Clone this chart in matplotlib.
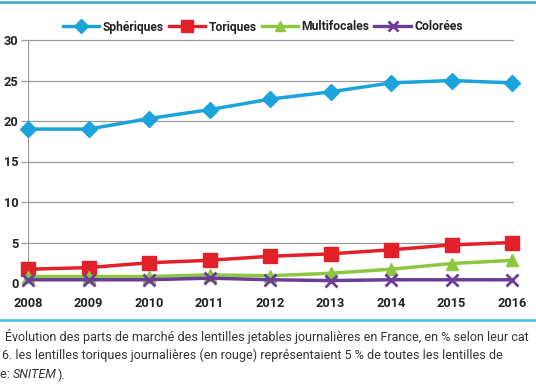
import matplotlib
matplotlib.use("Agg")
import matplotlib.pyplot as plt
from matplotlib.lines import Line2D

years = [2008, 2009, 2010, 2011, 2012, 2013, 2014, 2015, 2016]
spheriques = [19.0, 19.0, 20.3, 21.4, 22.7, 23.6, 24.7, 25.0, 24.7]
toriques = [1.7, 1.9, 2.5, 2.8, 3.3, 3.6, 4.1, 4.7, 5.0]
multifocales = [0.8, 0.8, 0.8, 1.0, 0.9, 1.2, 1.7, 2.4, 2.8]
colorees = [0.4, 0.4, 0.4, 0.6, 0.4, 0.3, 0.4, 0.4, 0.4]
yticks = [0, 5, 10, 15, 20, 25, 30]

plt.rcParams['font.family'] = ['Roboto', 'DejaVu Sans']

W, H = 536, 386
fig = plt.figure(figsize=(W / 100, H / 100), dpi=100)
fig.patch.set_facecolor('white')

x0, x1 = 28, 512
y0, y1 = 283, 40
ax = fig.add_axes([x0 / W, 1 - y0 / H, (x1 - x0) / W, (y0 - y1) / H])
ax.set_xlim(2008, 2016)
ax.set_ylim(0, 30)

for y in yticks[1:]:
    ax.axhline(y, color='#9a9a9a', lw=0.9, zorder=1, xmin=0, xmax=1.003, clip_on=False)
ax.axvline(2008, color='#9a9a9a', lw=0.9, zorder=1)

series = [
    ('Sphériques', spheriques, '#1ba3dc', 'D', 8.5),
    ('Toriques', toriques, '#e1202a', 's', 10),
    ('Multifocales', multifocales, '#8dc63f', '^', 9),
    ('Colorées', colorees, '#6b3d96', 'x', 9),
]
handles = []
for name, vals, col, mk, ms in series:
    kw = dict(color=col, lw=2.5, marker=mk, markersize=ms, zorder=3, clip_on=False)
    if mk == 'x':
        kw['markeredgewidth'] = 2.0
    ax.plot(years, vals, **kw)
    handles.append(Line2D([0], [0], color=col, lw=2.4, marker=mk,
                          markersize=ms * 0.85,
                          markeredgewidth=2.0 if mk == 'x' else 1.0,
                          label=name))

for s in ax.spines.values():
    s.set_visible(False)
ax.set_yticks(yticks)
ax.set_yticklabels([str(v) for v in yticks])
ax.set_xticks(years)
ax.set_xticklabels([str(v) for v in years])
ax.tick_params(axis='y', length=5, color='#9a9a9a', width=0.9, pad=2,
               labelsize=9.2, labelcolor='#222222')
ax.tick_params(axis='x', length=0, pad=10, labelsize=9.2, labelcolor='#222222')
for lab in ax.get_xticklabels() + ax.get_yticklabels():
    lab.set_fontweight('bold')

leg = fig.legend(handles=handles, loc='center', bbox_to_anchor=(263 / W, 1 - 27 / H),
                 ncol=4, frameon=False, handlelength=3.0, columnspacing=0.4,
                 handletextpad=0.3, prop={'weight': 'bold', 'size': 8.7})
for t in leg.get_texts():
    t.set_color('#222222')

# decorative rules
fig.add_artist(Line2D([0, 1], [1 - 2 / H, 1 - 2 / H], color='#3aa9c0', lw=1.8,
                      transform=fig.transFigure))
fig.add_artist(Line2D([0, 1], [1 - 320 / H, 1 - 320 / H], color='#3cc3d8', lw=1.8,
                      transform=fig.transFigure))

cap_kw = dict(fontsize=9.0, color='#333333', ha='left', va='center')
fig.text(5 / W, 1 - 337 / H,
         "Évolution des parts de marché des lentilles jetables journalières en France, en % selon leur cat",
         **cap_kw)
fig.text(2 / W, 1 - 355 / H,
         "6. les lentilles toriques journalières (en rouge) représentaient 5 % de toutes les lentilles de",
         **cap_kw)
t1 = fig.text(0 / W, 1 - 375 / H, "e: ", **cap_kw)
fig.canvas.draw()
bb = t1.get_window_extent()
t2 = fig.text(bb.x1 / W, 1 - 375 / H, "SNITEM", style='italic', **cap_kw)
fig.canvas.draw()
bb2 = t2.get_window_extent()
fig.text((bb2.x1 + 0.5) / W, 1 - 375 / H, ").", **cap_kw)

fig.savefig('out.png', dpi=100)
